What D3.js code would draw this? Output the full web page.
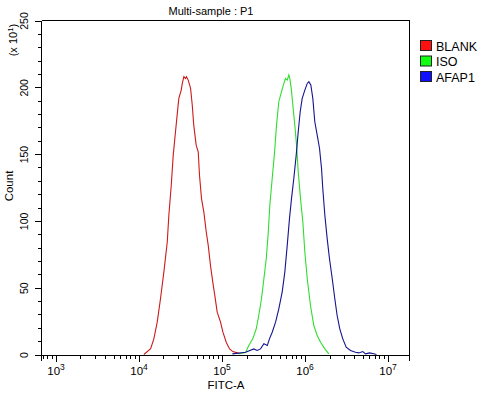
<!DOCTYPE html>
<html><head><meta charset="utf-8">
<script src="https://cdn.jsdelivr.net/npm/d3@7"></script>
<style>body{margin:0;background:#fff} svg{display:block;font-family:"Liberation Sans",Arial,sans-serif}</style>
</head><body><svg id="c" width="488" height="393"></svg>
<script>
// ---- data ----
const seriesNames = ["BLANK", "ISO", "AFAP1"];
const lineColors = ["#cc1a1a", "#2ede2e", "#14148f"];
const legendColors = ["#ff1010", "#10ff10", "#1010ff"];

const blankX = [11600,14000,15300,16800,18400,20200,22200,23200,24800,26200,27900,29200,30600,32700,33700,35200,36800,37800,39700,42400,44400,46300,49500,52400,54300,57400,61200,65500,69200,73600,78500,83000,88700,97300,104000,114000,125000,137000,155000,169000];
const blankY = [0,4.3,11.7,24.2,41.7,61.7,84.2,104.2,126.7,149.2,166.7,179.2,191.7,197.9,202.9,207.9,206.6,207.9,205.4,199.2,186.7,171.7,156.7,151.7,134.2,116.7,106.7,91.7,81.7,66.7,54.2,44.2,31.7,24.2,16.7,9.2,4.2,2.2,1.2,0.5];

const isoX = [161000,195000,213000,238000,262000,281000,303000,324000,346000,366000,382000,408000,436000,460000,490000,528000,564000,590000,619000,647000,665000,692000,723000,764000,802000,840000,895000,955000,1009000,1079000,1180000,1294000,1422000,1560000,1758000,1963000];
const isoY = [0.5,1.5,6.7,11.7,19.2,29.2,41.7,56.7,71.7,91.7,111.7,131.7,151.7,171.7,189.2,196.7,202.9,206.6,205.4,209.2,206.6,199.2,186.7,171.7,156.7,136.7,116.7,99.2,76.7,56.7,36.7,21.7,14.2,9.2,4.2,0.5];

const afapX = [135000,195000,245000,269000,295000,324000,356000,378000,408000,448000,490000,538000,579000,619000,659000,697000,743000,794000,840000,887000,938000,1009000,1079000,1127000,1191000,1259000,1330000,1422000,1517000,1603000,1660000,1758000,1875000,2000000,2158000,2317000,2472000,2661000,2891000,3177000,3581000,4111000,4508000,5035000,5433000,6067000,6839000,7362000];
const afapY = [0.5,1.7,4.2,3.0,4.2,8.0,6.7,11.7,16.7,24.2,34.2,46.7,61.7,81.7,101.7,116.7,131.7,149.2,166.7,181.7,191.7,197.9,202.9,204.2,201.7,191.7,174.2,164.2,154.2,139.2,124.2,104.2,86.7,71.7,56.7,41.7,29.2,19.2,11.7,5.5,3.0,1.7,1.2,2.2,0.5,1.2,0.5,0];

const yMajorTicks = [0, 50, 100, 150, 200, 250];
const xDecades = [3, 4, 5, 6, 7];
const xDomain = [678, 18400000];
const yDomain = [0, 250];
const titleText = "Multi-sample : P1";
const xLabel = "FITC-A";
const yLabel = "Count";

// ---- drawing ----
const svg = d3.select("#c");
const L = 41.5, R = 409.5, T = 20.5, B = 354.5;
const x = d3.scaleLog().domain(xDomain).range([L, R]);
const y = d3.scaleLinear().domain(yDomain).range([B, T]);

const series = [
  {x: blankX, y: blankY},
  {x: isoX, y: isoY},
  {x: afapX, y: afapY}
];

// frame
const g = svg.append("g").attr("shape-rendering", "crispEdges");
g.append("line").attr("x1", L).attr("x2", R).attr("y1", T).attr("y2", T).attr("stroke", "#000");
g.append("line").attr("x1", L).attr("x2", L).attr("y1", T).attr("y2", B + 6).attr("stroke", "#000");
g.append("line").attr("x1", R).attr("x2", R).attr("y1", T).attr("y2", B + 6).attr("stroke", "#000");

// x minor ticks
const minorX = [];
for (let d = 2; d <= 7; d++) for (let m = 2; m <= 9; m++) {
  const v = m * Math.pow(10, d);
  if (v > xDomain[0] && v < xDomain[1]) minorX.push(v);
}
const xMinor = d3.axisBottom(x).tickValues(minorX).tickSize(4).tickFormat("").tickSizeOuter(0);
svg.append("g").attr("transform", `translate(0,${B})`).call(xMinor)
  .call(s => s.select(".domain").attr("shape-rendering", "crispEdges"))
  .call(s => s.selectAll(".tick line").attr("shape-rendering", "crispEdges"));
const xMajor = d3.axisBottom(x).tickValues(xDecades.map(d => Math.pow(10, d))).tickSize(7).tickFormat("").tickSizeOuter(0);
const xm = svg.append("g").attr("transform", `translate(0,${B})`).call(xMajor);
xm.select(".domain").remove();
xm.selectAll(".tick line").attr("shape-rendering", "crispEdges");
xm.selectAll(".tick").each(function(d) {
  const t = d3.select(this).append("text").attr("y", 20.5).attr("fill", "#000")
    .attr("font-size", 11.5).attr("text-anchor", "middle");
  t.append("tspan").text("10");
  t.append("tspan").attr("dy", -5).attr("font-size", 8.5).text(Math.round(Math.log10(d)));
});

// y axis
const minorY = d3.range(10, 250, 10).filter(v => v % 50 !== 0);
const yMinor = d3.axisLeft(y).tickValues(minorY).tickSize(4).tickFormat("").tickSizeOuter(0);
svg.append("g").attr("transform", `translate(${L},0)`).call(yMinor)
  .call(s => s.select(".domain").remove())
  .call(s => s.selectAll(".tick line").attr("shape-rendering", "crispEdges"));
const yMajor = d3.axisLeft(y).tickValues(yMajorTicks).tickSize(7).tickFormat("").tickSizeOuter(0);
const ym = svg.append("g").attr("transform", `translate(${L},0)`).call(yMajor);
ym.select(".domain").remove();
ym.selectAll(".tick line").attr("shape-rendering", "crispEdges");
ym.selectAll(".tick").append("text")
  .attr("transform", "translate(-14,0) rotate(-90)")
  .attr("text-anchor", "middle").attr("fill", "#000").attr("font-size", 10.5)
  .text(d => d);

// lines
const line = d3.line().x(d => x(d[0])).y(d => y(d[1]));
const plot = svg.append("g");
series.forEach((s, i) => {
  plot.append("path").datum(s.x.map((v, j) => [v, s.y[j]]))
    .attr("d", line).attr("fill", "none").attr("stroke", lineColors[i]).attr("stroke-width", 1.1);
});

// title and labels
svg.append("text").attr("x", 211).attr("y", 15).attr("text-anchor", "middle").attr("font-size", 11).text(titleText);
svg.append("text").attr("x", 226).attr("y", 389).attr("text-anchor", "middle").attr("font-size", 11.5).text(xLabel);
svg.append("text").attr("transform", "translate(13,186) rotate(-90)").attr("text-anchor", "middle").attr("font-size", 11.5).text(yLabel);
const ex = svg.append("text").attr("transform", "translate(17,40) rotate(-90)").attr("text-anchor", "middle").attr("font-size", 11);
ex.append("tspan").text("(x 10");
ex.append("tspan").attr("dy", -4).attr("font-size", 8).text("1");
ex.append("tspan").attr("dy", 4).text(")");

// legend
const lg = svg.append("g");
seriesNames.forEach((n, i) => {
  const yy = 40.5 + i * 15.5;
  lg.append("rect").attr("x", 420.5).attr("y", yy).attr("width", 11).attr("height", 10)
    .attr("fill", legendColors[i]).attr("stroke", "#222").attr("stroke-width", 1);
  lg.append("text").attr("x", 436).attr("y", yy + 10).attr("font-size", 12.5).text(n);
});
</script></body></html>
